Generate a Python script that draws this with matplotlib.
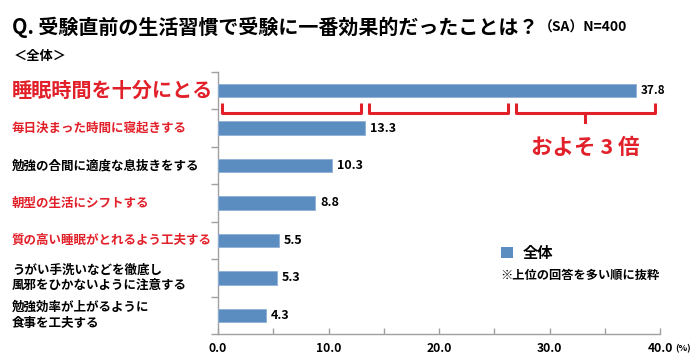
import matplotlib
matplotlib.use("Agg")
import matplotlib.pyplot as plt
import matplotlib.transforms as mtransforms
from matplotlib.patches import Rectangle

plt.rcParams['font.family'] = ['Noto Sans CJK JP', 'DejaVu Sans']

categories = [
    "睡眠時間を十分にとる",
    "毎日決まった時間に寝起きする",
    "勉強の合間に適度な息抜きをする",
    "朝型の生活にシフトする",
    "質の高い睡眠がとれるよう工夫する",
    "うがい手洗いなどを徹底し\n風邪をひかないように注意する",
    "勉強効率が上がるように\n食事を工夫する",
]
values = [37.8, 13.3, 10.3, 8.8, 5.5, 5.3, 4.3]
highlight = [True, True, False, True, True, False, False]
xticks = [0, 10, 20, 30, 40]
xtick_labels = ["0.0", "10.0", "20.0", "30.0", "40.0"]

BLUE = '#5b8dc0'
RED = '#e2202a'
W, H = 700, 360

fig = plt.figure(figsize=(7, 3.6), dpi=100)
ax = fig.add_axes([218 / W, 1 - 334 / H, (660 - 218) / W, (334 - 72) / H])

ys = list(range(len(values)))
ax.barh(ys, values, height=0.36, color=BLUE, edgecolor='#8fb0d6', linewidth=0.6, zorder=3)
ax.set_ylim(len(values) - 0.5, -0.5)
ax.set_xlim(0, 40)

for spine in ['top', 'right']:
    ax.spines[spine].set_visible(False)
for spine in ['left', 'bottom']:
    ax.spines[spine].set_color('#a0a0a0')
    ax.spines[spine].set_linewidth(1.0)

ax.set_yticks([i - 0.5 for i in range(len(values) + 1)])
ax.set_yticklabels([])
ax.tick_params(axis='y', length=5, direction='out', color='#a0a0a0', width=1)

ax.set_xticks(xticks)
ax.set_xticklabels(xtick_labels, fontsize=8.7, fontweight='bold')
ax.set_xticks([5, 15, 25, 35], minor=True)
ax.tick_params(axis='x', which='both', length=4, direction='in', color='#a0a0a0', width=1, pad=6)

# value labels
for y, v in zip(ys, values):
    ax.text(v + 0.45, y, f"{v:.1f}", va='center', ha='left', fontsize=9 if y else 8.5,
            fontweight='bold', color='black')

# category labels, left aligned at figure edge
trans = mtransforms.blended_transform_factory(fig.transFigure, ax.transData)
for y, (lab, hl) in enumerate(zip(categories, highlight)):
    if y == 0:
        ax.text(12 / W, y, lab, transform=trans, ha='left', va='center',
                fontsize=14.5, fontweight='bold', color=RED, clip_on=False)
    else:
        ax.text(12 / W, y, lab, transform=trans, ha='left', va='center',
                fontsize=9, fontweight='bold', color=RED if hl else 'black',
                linespacing=1.25, clip_on=False)

# brackets: three segments of the second value
seg = values[1]
gap = 0.35
ytop, ybot, ystem = 0.32, 0.59, 0.83
for i in range(3):
    x0 = i * seg + gap
    x1 = (i + 1) * seg - gap
    ax.plot([x0, x0, x1, x1], [ytop, ybot, ybot, ytop], color=RED, lw=2.2,
            solid_joinstyle='round', solid_capstyle='butt', clip_on=False, zorder=4)
xm = 2.5 * seg
ax.plot([xm, xm], [ybot, ystem], color=RED, lw=2.2, clip_on=False, zorder=4)
ax.text(xm, 1.52, "およそ 3 倍", ha='center', va='center', fontsize=15.5,
        fontweight='bold', color=RED)

# "(%)" unit next to last tick label
fig.text(675 / W, 1 - 349 / H, "(%)", ha='left', va='center', fontsize=6.5, fontweight='bold')

# title
fig.text(12 / W, 1 - 27 / H, "Q. 受験直前の生活習慣で受験に一番効果的だったことは？",
         ha='left', va='center', fontsize=14.4, fontweight='bold')
fig.text(539 / W, 1 - 28 / H, "（SA）N=400", ha='left', va='center', fontsize=10, fontweight='bold')
fig.text(14 / W, 1 - 56 / H, "＜全体＞", ha='left', va='center', fontsize=9.5, fontweight='bold')

# legend
fig.patches.append(Rectangle((501 / W, 1 - 258 / H), 12 / W, 11 / H, transform=fig.transFigure,
                             facecolor=BLUE, edgecolor='none'))
fig.text(523 / W, 1 - 253 / H, "全体", ha='left', va='center', fontsize=11, fontweight='bold')
fig.text(500 / W, 1 - 275 / H, "※上位の回答を多い順に抜粋", ha='left', va='center',
         fontsize=8.8, fontweight='bold')

fig.savefig("out.png", dpi=100)
